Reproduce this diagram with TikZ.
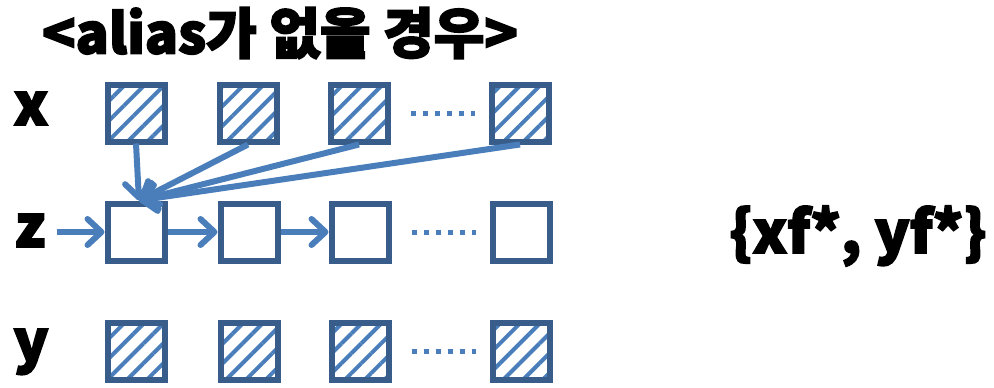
\documentclass[tikz,border=0pt]{standalone}
\usepackage{fontspec}
\setmainfont[BoldFeatures={FakeBold=3}]{Noto Sans CJK KR}
\usepackage{tikz}
\usetikzlibrary{arrows.meta,positioning,patterns.meta}
\definecolor{boxblue}{RGB}{56,93,138}
\definecolor{lineblue}{RGB}{74,126,187}
\tikzset{
  cell/.style={draw=boxblue, line width=6pt, minimum size=57pt, inner sep=0pt},
  hcell/.style={cell, pattern={Lines[angle=45,distance=14pt,line width=4pt]},
                pattern color=lineblue},
  lbl/.style={font=\fontsize{58}{64}\selectfont\bfseries, anchor=base, inner sep=0pt},
  arr/.style={-{Straight Barb[length=14pt,width=26pt,round]}, line width=6pt, draw=lineblue},
  dotrow/.style={draw=lineblue, line width=5pt, dash pattern=on 5pt off 7pt},
}
\begin{document}
\begin{tikzpicture}[x=1pt, y=-1pt, node distance=50pt and 50pt]
    \useasboundingbox (0,0) rectangle (994,388);
    \node[lbl, anchor=center, font=\fontsize{55}{60}\selectfont\bfseries] (title) at (280,33) {<alias가 없을 경우>};
    % x row
    \node[hcell] (x1) at (136,113) {};
    \node[hcell, right=of x1] (x2) {};
    \node[hcell, right=48pt of x2] (x3) {};
    \node[hcell, right=98pt of x3] (x4) {};
    % z row
    \node[cell, below=57pt of x1] (z1) {};
    \node[cell, right=of z1] (z2) {};
    \node[cell, right=48pt of z2] (z3) {};
    \node[cell, right=98pt of z3] (z4) {};
    % y row
    \node[hcell, below=56pt of z1] (y1) {};
    \node[hcell, right=of y1] (y2) {};
    \node[hcell, right=48pt of y2] (y3) {};
    \node[hcell, right=98pt of y3] (y4) {};
    \node[lbl] (lx) at (31,125) {x};
    \node[lbl] (lz) at (30,247) {z};
    \node[lbl] (ly) at (31,362) {y};
    \node[lbl, anchor=center] (res) at (858,236) {\{xf*, yf*\}};
    \draw[dotrow] ([xshift=20pt]x3.east) -- ([xshift=-14pt]x4.west);
    \draw[dotrow] ([xshift=20pt]z3.east) -- ([xshift=-14pt]z4.west);
    \draw[dotrow] ([xshift=20pt]y3.east) -- ([xshift=-14pt]y4.west);
    \coordinate[left=48pt of z1] (zin);
    \coordinate (hub) at ([xshift=3pt]z1.north);
    \draw[arr] (zin) -- (z1);
    \draw[arr] (z1) -- (z2);
    \draw[arr] (z2) -- (z3);
    \foreach \i in {1,...,4}
      \draw[arr] (x\i.south) -- (hub);
  \end{tikzpicture}
\end{document}
